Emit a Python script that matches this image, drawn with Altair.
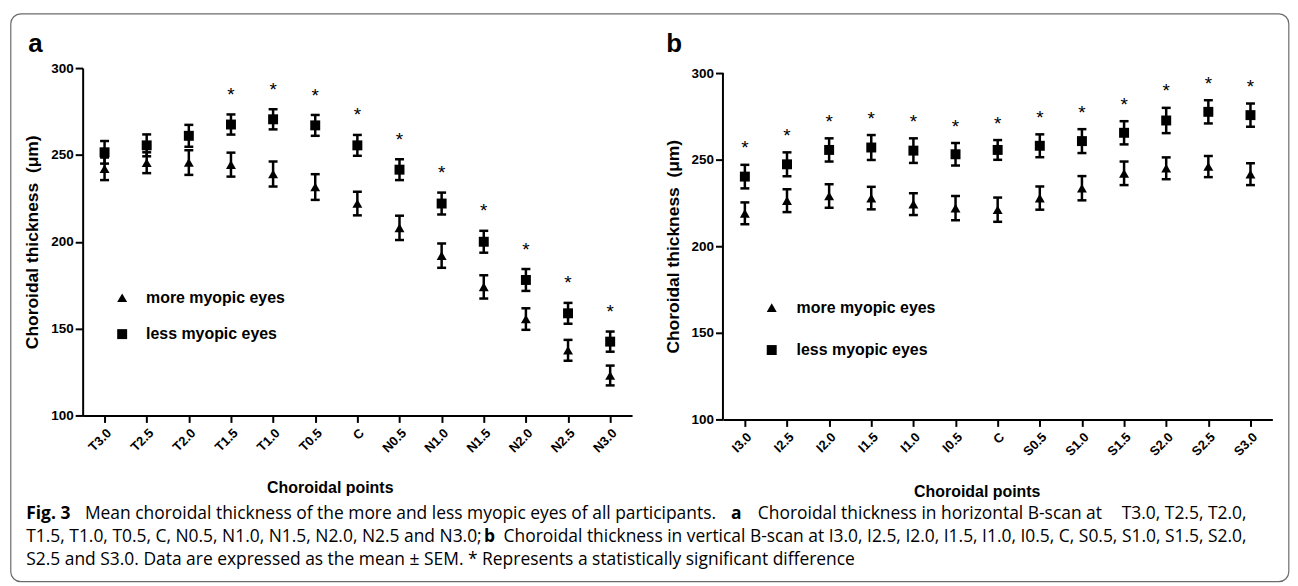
import altair as alt
import pandas as pd

# ---------------- data ----------------
GROUPS = ["more myopic eyes", "less myopic eyes"]
SHAPES = ["triangle-up", "square"]

POINTS_A = ["T3.0", "T2.5", "T2.0", "T1.5", "T1.0", "T0.5", "C",
            "N0.5", "N1.0", "N1.5", "N2.0", "N2.5", "N3.0"]
MORE_A = [242.0, 245.5, 245.6, 244.4, 239.0, 231.5, 222.0, 208.0, 192.0, 174.0, 155.5, 137.5, 123.0]
MORE_A_SEM = [6.5, 6.0, 7.1, 6.9, 7.2, 7.4, 6.8, 7.0, 7.0, 6.7, 6.2, 6.0, 5.7]
LESS_A = [251.5, 255.5, 261.0, 267.5, 270.5, 267.0, 255.5, 241.5, 222.0, 200.0, 178.0, 158.8, 142.5]
LESS_A_SEM = [6.5, 6.3, 6.3, 5.8, 5.8, 6.0, 6.0, 6.0, 6.3, 6.3, 6.3, 6.0, 5.8]
SIG_A = [False, False, False, True, True, True, True, True, True, True, True, True, True]

POINTS_B = ["I3.0", "I2.5", "I2.0", "I1.5", "I1.0", "I0.5", "C",
            "S0.5", "S1.0", "S1.5", "S2.0", "S2.5", "S3.0"]
MORE_B = [219.0, 226.3, 229.0, 227.8, 224.3, 222.0, 221.1, 227.8, 233.5, 242.1, 245.0, 246.0, 241.6]
MORE_B_SEM = [6.3, 6.6, 6.8, 6.5, 6.3, 7.0, 7.0, 6.7, 7.0, 6.8, 6.3, 6.1, 6.3]
LESS_B = [240.2, 247.3, 255.6, 257.0, 255.2, 253.1, 255.6, 258.0, 260.7, 265.5, 272.6, 277.6, 275.7]
LESS_B_SEM = [6.8, 6.9, 6.7, 7.2, 7.1, 6.5, 5.7, 6.6, 6.9, 6.7, 7.3, 6.7, 6.7]
SIG_B = [True] * 13

Y_TICKS = [100, 150, 200, 250, 300]
Y_TITLE = "Choroidal thickness\u00a0 (\u03bcm)"
X_TITLE = "Choroidal points"

CAPTION_1 = ["Fig. 3", "Mean choroidal thickness of the more and less myopic eyes of all participants.",
             "a", "Choroidal thickness in horizontal B-scan at", "T3.0, T2.5, T2.0,"]
CAPTION_2 = ["T1.5, T1.0, T0.5, C, N0.5, N1.0, N1.5, N2.0, N2.5 and N3.0;", "b",
             "Choroidal thickness in vertical B-scan at I3.0, I2.5, I2.0, I1.5, I1.0, I0.5, C, S0.5, S1.0, S1.5, S2.0,"]
CAPTION_3 = ["S2.5 and S3.0. Data are expressed as the mean \u00b1 SEM. * Represents a statistically significant difference"]

FONT = "Liberation Sans"
CAP_FONT = "Open Sans"

W = 552
ONE = pd.DataFrame({"k": [0]})


def long_table(points, more, more_sem, less, less_sem):
    rows = []
    for p, m, s in zip(points, more, more_sem):
        rows.append({"point": p, "group": GROUPS[0], "mean": m, "lo": m - s, "hi": m + s})
    for p, m, s in zip(points, less, less_sem):
        rows.append({"point": p, "group": GROUPS[1], "mean": m, "lo": m - s, "hi": m + s})
    return pd.DataFrame(rows)


def star_table(points, less, less_sem, sig):
    return pd.DataFrame({"point": [p for p, g in zip(points, sig) if g],
                         "top": [m + s for m, s, g in zip(less, less_sem, sig) if g]})


def text_at(txt, x, y, size, weight="normal", font=FONT, align="left", baseline="alphabetic", color="black"):
    return alt.Chart(ONE).mark_text(text=txt, font=font, fontSize=size, fontWeight=weight,
                                    align=align, baseline=baseline, color=color).encode(
        x=alt.value(x), y=alt.value(y))


def panel(points, more, more_sem, less, less_sem, sig, height, ydom, draw_domain,
          legend_x, legend_y, row_pad, label_off, title_x, star_dy):
    df = long_table(points, more, more_sem, less, less_sem)
    stars = star_table(points, less, less_sem, sig)

    xax = alt.Axis(labelAngle=-45, labelFont=FONT, labelFontSize=13, labelFontWeight="bold",
                   labelColor="black", labelPadding=4, tickSize=7, tickWidth=2, tickColor="black",
                   domainWidth=2, domainColor="black", title=X_TITLE, titleFont=FONT,
                   titleFontSize=16, titleFontWeight="bold", titleColor="black",
                   titleX=title_x, titleY=72, titleBaseline="middle", titleAlign="center", grid=False)
    yax = alt.Axis(values=Y_TICKS, labelFont=FONT, labelFontSize=13.5, labelFontWeight="bold",
                   labelColor="black", labelPadding=2, tickSize=7.5, tickWidth=2, tickColor="black",
                   domain=draw_domain, domainWidth=2, domainColor="black", title=Y_TITLE,
                   titleFont=FONT, titleFontSize=17.5, titleFontWeight="bold", titleColor="black",
                   titleX=-50, titleY=height / 2 + (0 if draw_domain else 2.5),
                   titleAngle=-90, titleBaseline="middle", titleAlign="center", grid=False)

    xs = alt.Scale(type="point", padding=0.52)
    ys = alt.Scale(domain=ydom, nice=False, zero=False)
    X = alt.X("point:N", sort=points, scale=xs, axis=xax)

    base = alt.Chart(df).encode(x=X)
    rule = base.mark_rule(color="black", strokeWidth=2.5).encode(
        y=alt.Y("lo:Q", scale=ys, axis=yax), y2="hi:Q")
    tlo = base.mark_tick(color="black", thickness=2.5, size=9, opacity=1).encode(
        y=alt.Y("lo:Q", scale=ys, axis=yax))
    thi = base.mark_tick(color="black", thickness=2.5, size=9, opacity=1).encode(
        y=alt.Y("hi:Q", scale=ys, axis=yax))
    pts = base.mark_point(filled=True, color="black", size=100, opacity=1).encode(
        y=alt.Y("mean:Q", scale=ys, axis=yax),
        shape=alt.Shape("group:N", scale=alt.Scale(domain=GROUPS, range=SHAPES),
                        legend=alt.Legend(orient="none", legendX=legend_x, legendY=legend_y,
                                          padding=0, rowPadding=row_pad, labelOffset=label_off,
                                          symbolSize=100, symbolFillColor="black",
                                          symbolStrokeColor="black", symbolStrokeWidth=0,
                                          symbolOpacity=1, labelFont=FONT, labelFontSize=16,
                                          labelFontWeight="bold", labelColor="black", title=None)))
    star = alt.Chart(stars).mark_text(text="*", font=FONT, fontSize=19, dy=star_dy,
                                      baseline="alphabetic", color="black").encode(
        x=X, y=alt.Y("top:Q", scale=ys, axis=yax))
    layers = [rule, tlo, thi, pts, star]
    if not draw_domain:
        dom = alt.Chart(ONE).mark_rule(color="black", strokeWidth=2).encode(
            x=alt.value(0), y=alt.datum(100, scale=ys, axis=yax), y2=alt.datum(300))
        layers.insert(0, dom)
    return layers


# ---------------- panel a ----------------
A_OX, A_OY = 82.7, 66.0
layers_a = panel(POINTS_A, MORE_A, MORE_A_SEM, LESS_A, LESS_A_SEM, SIG_A, 349, [100, 300], True,
                 31.7, 222.7, 20.6, 16, 248.3, -13.5)

border = alt.Chart(ONE).mark_rect(fill="white", fillOpacity=0, stroke="#6b6b6b", strokeWidth=1.2,
                                  cornerRadius=10).encode(
    x=alt.value(10.5 - A_OX), x2=alt.value(1294.5 - A_OX),
    y=alt.value(11.5 - A_OY), y2=alt.value(582 - A_OY))

deco_a = [border, text_at("a", 28 - A_OX, 50 - A_OY, 26, "bold")]

cap_y = [519 - A_OY, 542 - A_OY, 565 - A_OY]
CAP_SIZE = 17.5
deco_a += [
    text_at(CAPTION_1[0], 26 - A_OX, cap_y[0], CAP_SIZE, "bold", CAP_FONT),
    text_at(CAPTION_1[1], 85 - A_OX, cap_y[0], CAP_SIZE, "normal", CAP_FONT),
    text_at(CAPTION_1[2], 734 - A_OX, cap_y[0], CAP_SIZE, "bold", CAP_FONT),
    text_at(CAPTION_1[3], 761 - A_OX, cap_y[0], CAP_SIZE, "normal", CAP_FONT),
    text_at(CAPTION_1[4], 1252 - A_OX, cap_y[0], CAP_SIZE, "normal", CAP_FONT, align="right"),
    text_at(CAPTION_2[0], 26 - A_OX, cap_y[1], CAP_SIZE, "normal", CAP_FONT),
    text_at(CAPTION_2[1], 486 - A_OX, cap_y[1], CAP_SIZE, "bold", CAP_FONT),
    text_at(CAPTION_2[2], 1252 - A_OX, cap_y[1], CAP_SIZE, "normal", CAP_FONT, align="right"),
    text_at(CAPTION_3[0], 26 - A_OX, cap_y[2], CAP_SIZE, "normal", CAP_FONT),
]

chart_a = alt.layer(*deco_a, *layers_a).properties(width=W, height=349)

# ---------------- panel b ----------------
B_OX = 726.0
B_TOP = 302.87
layers_b = panel(POINTS_B, MORE_B, MORE_B_SEM, LESS_B, LESS_B_SEM, SIG_B, 353, [100, B_TOP], False,
                 41, 232.7, 26.6, 17, 255, -10.5)
deco_b = [text_at("b", 669 - B_OX, 50 - A_OY, 26, "bold")]
chart_b = alt.layer(*deco_b, *layers_b).properties(width=W, height=353)

chart = alt.hconcat(chart_a, chart_b, spacing=B_OX - A_OX - W, bounds="flush").resolve_scale(
    x="independent", y="independent", shape="independent").resolve_legend(shape="independent").properties(
    padding={"left": 2, "top": 3, "right": 0, "bottom": 0}).configure_view(stroke=None)

chart.save("out.html", embed_options={"renderer": "svg", "actions": False})
